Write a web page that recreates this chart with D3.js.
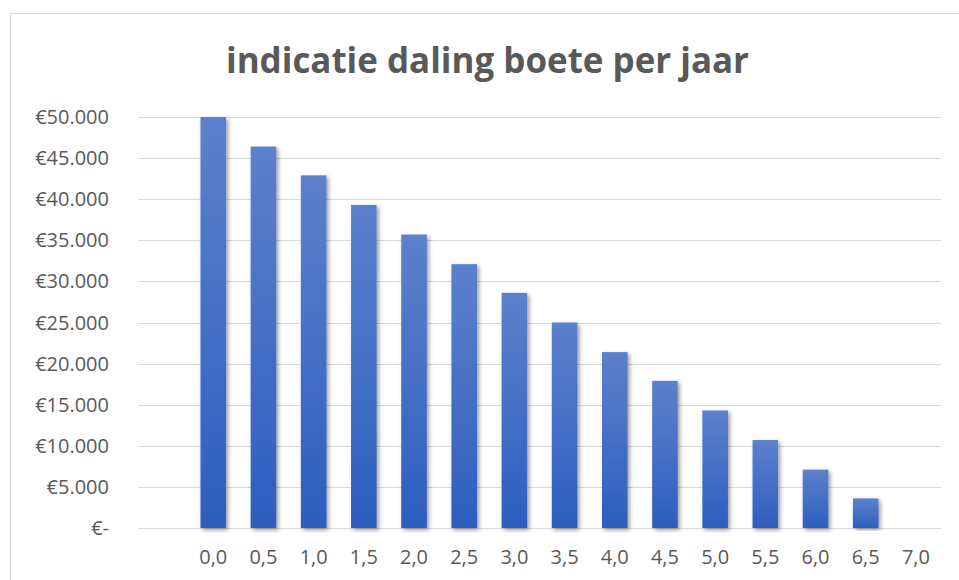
<!DOCTYPE html>
<html>
<head>
<meta charset="utf-8">
<script src="https://cdn.jsdelivr.net/npm/d3@7"></script>
<style>
  body { margin: 0; background: #fff; }
  svg { display: block; font-family: "Open Sans", "Noto Sans", sans-serif; }
</style>
</head>
<body>
<svg id="chart" width="959" height="580"></svg>
<script>
// Chart data
const title = "indicatie daling boete per jaar";
const categories = ["0,0", "0,5", "1,0", "1,5", "2,0", "2,5", "3,0", "3,5",
                    "4,0", "4,5", "5,0", "5,5", "6,0", "6,5", "7,0"];
const values = [50000, 46400, 42900, 39300, 35700, 32100, 28600, 25000,
                21400, 17900, 14300, 10700, 7100, 3600, 0];
const yTicks = [0, 5000, 10000, 15000, 20000, 25000, 30000, 35000, 40000, 45000, 50000];

const svg = d3.select("#chart");
const textColor = "#595959";
const gridColor = "#d9d9d9";

// Chart area border
svg.append("rect")
    .attr("x", 10.5).attr("y", 13.5)
    .attr("width", 1000).attr("height", 1000)
    .attr("fill", "none")
    .attr("stroke", gridColor);

// Plot area
const plot = {left: 138, right: 941, top: 117, bottom: 528};

// first slot of the category axis is empty in the original
const x = d3.scaleBand()
    .domain(["", ...categories])
    .range([plot.left, plot.right])
    .paddingInner(0.49)
    .paddingOuter(0.245);

const y = d3.scaleLinear()
    .domain([0, 50000])
    .range([plot.bottom, plot.top]);

const euro = d3.formatLocale({decimal: ",", thousands: ".", grouping: [3], currency: ["€", ""]});
const fmt = euro.format("$,.0f");

// Defs: gradient + shadow
const defs = svg.append("defs");
const grad = defs.append("linearGradient")
    .attr("id", "barGrad")
    .attr("x1", 0).attr("y1", 0).attr("x2", 0).attr("y2", 1);
grad.append("stop").attr("offset", "0%").attr("stop-color", "#5c81cc");
grad.append("stop").attr("offset", "100%").attr("stop-color", "#2d5ebf");

const shadow = defs.append("filter")
    .attr("id", "shadow")
    .attr("x", "-50%").attr("y", "-10%")
    .attr("width", "200%").attr("height", "120%");
shadow.append("feDropShadow")
    .attr("dx", 2).attr("dy", 2)
    .attr("stdDeviation", 2.2)
    .attr("flood-color", "#000")
    .attr("flood-opacity", 0.4);

// Gridlines
svg.append("g")
    .selectAll("line")
    .data(yTicks)
    .enter().append("line")
    .attr("x1", plot.left)
    .attr("x2", plot.right)
    .attr("y1", d => Math.round(y(d)) + 0.5)
    .attr("y2", d => Math.round(y(d)) + 0.5)
    .attr("stroke", gridColor)
    .attr("stroke-width", 1);

// Y labels
svg.append("g")
    .selectAll("text")
    .data(yTicks)
    .enter().append("text")
    .attr("x", 109)
    .attr("y", d => y(d) + 7)
    .attr("text-anchor", "end")
    .attr("font-size", 20)
    .attr("fill", textColor)
    .text(d => d === 0 ? "€-" : fmt(d));

// Bars
svg.append("g")
    .selectAll("rect")
    .data(values)
    .enter().append("rect")
    .attr("x", (d, i) => x(categories[i]))
    .attr("y", d => y(d))
    .attr("width", x.bandwidth())
    .attr("height", d => y(0) - y(d))
    .attr("fill", "url(#barGrad)")
    .attr("filter", "url(#shadow)");

// X labels
svg.append("g")
    .selectAll("text")
    .data(categories)
    .enter().append("text")
    .attr("x", d => x(d) + x.bandwidth() / 2)
    .attr("y", 564)
    .attr("text-anchor", "middle")
    .attr("font-size", 20)
    .attr("fill", textColor)
    .text(d => d);

// Title
svg.append("text")
    .attr("x", 487.5)
    .attr("y", 73)
    .attr("text-anchor", "middle")
    .attr("font-size", 36)
    .attr("font-weight", "bold")
    .attr("fill", textColor)
    .attr("textLength", 523)
    .attr("lengthAdjust", "spacingAndGlyphs")
    .text(title);
</script>
</body>
</html>
